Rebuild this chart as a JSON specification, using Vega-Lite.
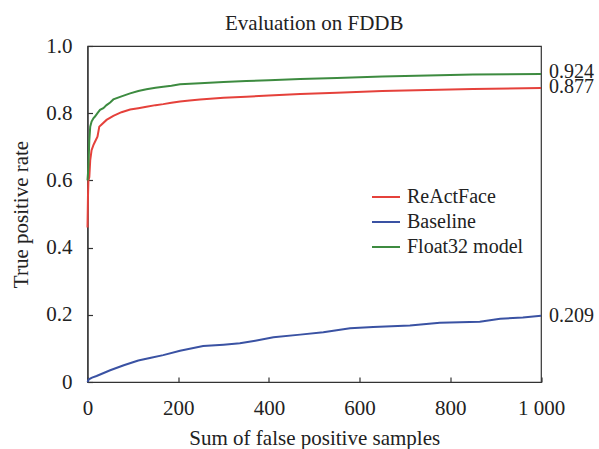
{
  "$schema": "https://vega.github.io/schema/vega-lite/v6.json",
  "autosize": {"type": "none"},
  "padding": {"left": 87.5, "top": 46, "right": 58, "bottom": 67},
  "width": 453.5,
  "height": 336,
  "title": {"text": "Evaluation on FDDB", "fontSize": 21, "fontWeight": "normal", "font": "Liberation Serif, Times New Roman, serif", "color": "#222", "baseline": "bottom", "offset": 2, "dy": 22},
  "config": {
    "font": "Liberation Serif, Times New Roman, serif",
    "view": {"stroke": "#333", "strokeWidth": 1.2},
    "axis": {"grid": false, "domainColor": "#333", "tickColor": "#333", "domainWidth": 1.2, "tickWidth": 1.2, "labelFontSize": 21, "titleFontSize": 21, "labelColor": "#222", "titleColor": "#222", "titleFontWeight": "normal", "labelFont": "Liberation Serif, Times New Roman, serif", "titleFont": "Liberation Serif, Times New Roman, serif"}
  },
  "layer": [
    {
      "data": {"values": [
        {"x":0,"y":0.46,"series":"ReActFace"},
        {"x":1,"y":0.55,"series":"ReActFace"},
        {"x":2,"y":0.6,"series":"ReActFace"},
        {"x":4,"y":0.61,"series":"ReActFace"},
        {"x":6,"y":0.66,"series":"ReActFace"},
        {"x":9,"y":0.69,"series":"ReActFace"},
        {"x":13,"y":0.705,"series":"ReActFace"},
        {"x":16.5,"y":0.715,"series":"ReActFace"},
        {"x":22,"y":0.73,"series":"ReActFace"},
        {"x":26,"y":0.76,"series":"ReActFace"},
        {"x":30,"y":0.765,"series":"ReActFace"},
        {"x":42,"y":0.78,"series":"ReActFace"},
        {"x":57,"y":0.792,"series":"ReActFace"},
        {"x":75,"y":0.803,"series":"ReActFace"},
        {"x":94,"y":0.811,"series":"ReActFace"},
        {"x":112,"y":0.815,"series":"ReActFace"},
        {"x":130,"y":0.819,"series":"ReActFace"},
        {"x":150,"y":0.824,"series":"ReActFace"},
        {"x":167,"y":0.827,"series":"ReActFace"},
        {"x":185,"y":0.831,"series":"ReActFace"},
        {"x":204,"y":0.835,"series":"ReActFace"},
        {"x":225,"y":0.838,"series":"ReActFace"},
        {"x":248,"y":0.841,"series":"ReActFace"},
        {"x":300,"y":0.846,"series":"ReActFace"},
        {"x":350,"y":0.849,"series":"ReActFace"},
        {"x":400,"y":0.853,"series":"ReActFace"},
        {"x":469,"y":0.857,"series":"ReActFace"},
        {"x":550,"y":0.861,"series":"ReActFace"},
        {"x":650,"y":0.866,"series":"ReActFace"},
        {"x":750,"y":0.869,"series":"ReActFace"},
        {"x":850,"y":0.872,"series":"ReActFace"},
        {"x":1000,"y":0.875,"series":"ReActFace"},
        {"x":0,"y":0,"series":"Baseline"},
        {"x":3,"y":0.008,"series":"Baseline"},
        {"x":10,"y":0.013,"series":"Baseline"},
        {"x":20,"y":0.018,"series":"Baseline"},
        {"x":50,"y":0.035,"series":"Baseline"},
        {"x":80,"y":0.05,"series":"Baseline"},
        {"x":112,"y":0.064,"series":"Baseline"},
        {"x":140,"y":0.072,"series":"Baseline"},
        {"x":167,"y":0.08,"series":"Baseline"},
        {"x":204,"y":0.093,"series":"Baseline"},
        {"x":255,"y":0.107,"series":"Baseline"},
        {"x":300,"y":0.111,"series":"Baseline"},
        {"x":336,"y":0.115,"series":"Baseline"},
        {"x":370,"y":0.123,"series":"Baseline"},
        {"x":410,"y":0.133,"series":"Baseline"},
        {"x":469,"y":0.141,"series":"Baseline"},
        {"x":520,"y":0.148,"series":"Baseline"},
        {"x":579,"y":0.16,"series":"Baseline"},
        {"x":630,"y":0.164,"series":"Baseline"},
        {"x":711,"y":0.168,"series":"Baseline"},
        {"x":777,"y":0.176,"series":"Baseline"},
        {"x":865,"y":0.179,"series":"Baseline"},
        {"x":910,"y":0.188,"series":"Baseline"},
        {"x":960,"y":0.192,"series":"Baseline"},
        {"x":1000,"y":0.197,"series":"Baseline"},
        {"x":0,"y":0.6,"series":"Float32 model"},
        {"x":2,"y":0.64,"series":"Float32 model"},
        {"x":4,"y":0.72,"series":"Float32 model"},
        {"x":6,"y":0.76,"series":"Float32 model"},
        {"x":9,"y":0.775,"series":"Float32 model"},
        {"x":13,"y":0.785,"series":"Float32 model"},
        {"x":16.5,"y":0.79,"series":"Float32 model"},
        {"x":22,"y":0.8,"series":"Float32 model"},
        {"x":27.6,"y":0.81,"series":"Float32 model"},
        {"x":35,"y":0.815,"series":"Float32 model"},
        {"x":42,"y":0.824,"series":"Float32 model"},
        {"x":50,"y":0.832,"series":"Float32 model"},
        {"x":57,"y":0.841,"series":"Float32 model"},
        {"x":75,"y":0.85,"series":"Float32 model"},
        {"x":94,"y":0.859,"series":"Float32 model"},
        {"x":112,"y":0.866,"series":"Float32 model"},
        {"x":130,"y":0.871,"series":"Float32 model"},
        {"x":150,"y":0.876,"series":"Float32 model"},
        {"x":167,"y":0.879,"series":"Float32 model"},
        {"x":185,"y":0.882,"series":"Float32 model"},
        {"x":204,"y":0.886,"series":"Float32 model"},
        {"x":248,"y":0.889,"series":"Float32 model"},
        {"x":300,"y":0.893,"series":"Float32 model"},
        {"x":350,"y":0.896,"series":"Float32 model"},
        {"x":400,"y":0.898,"series":"Float32 model"},
        {"x":469,"y":0.902,"series":"Float32 model"},
        {"x":550,"y":0.905,"series":"Float32 model"},
        {"x":650,"y":0.909,"series":"Float32 model"},
        {"x":750,"y":0.912,"series":"Float32 model"},
        {"x":850,"y":0.915,"series":"Float32 model"},
        {"x":1000,"y":0.917,"series":"Float32 model"}
      ]},
      "mark": {"type": "line", "strokeWidth": 2, "interpolate": "linear"},
      "encoding": {
        "x": {"field": "x", "type": "quantitative", "scale": {"domain": [0, 1000], "nice": false},
          "axis": {"title": "Sum of false positive samples", "values": [0,200,400,600,800,1000], "tickSize": -5, "labelPadding": 20, "labelExpr": "datum.value == 1000 ? '1 000' : datum.label", "labelFlush": false, "titleBaseline": "alphabetic", "titleY": 62}},
        "y": {"field": "y", "type": "quantitative", "scale": {"domain": [0, 1], "nice": false},
          "axis": {"title": "True positive rate", "values": [0,0.2,0.4,0.6,0.8,1], "tickSize": -5, "labelPadding": 20.5, "labelExpr": "datum.value == 0 ? '0' : format(datum.value, '.1f')", "labelFlush": false, "titleBaseline": "alphabetic", "titleX": -60.5}},
        "color": {"field": "series", "type": "nominal",
          "scale": {"domain": ["ReActFace", "Baseline", "Float32 model"], "range": ["#e5413b", "#3a52a3", "#3d8b40"]},
          "legend": {"title": null, "orient": "none", "legendX": 283.5, "legendY": 136, "symbolType": "stroke", "symbolSize": 784, "symbolStrokeWidth": 2, "labelFontSize": 20, "labelFont": "Liberation Serif, Times New Roman, serif", "labelColor": "#222", "labelOffset": 6, "rowPadding": -2, "labelLimit": 300}},
        "order": {"field": "x", "type": "quantitative"}
      }
    },
    {
      "data": {"values": [
        {"x": 1000, "y": 0.924, "label": "0.924"},
        {"x": 1000, "y": 0.877, "label": "0.877"},
        {"x": 1000, "y": 0.197, "label": "0.209"}
      ]},
      "mark": {"type": "text", "align": "left", "baseline": "middle", "dx": 8, "fontSize": 20, "font": "Liberation Serif, Times New Roman, serif", "color": "#222"},
      "encoding": {
        "x": {"field": "x", "type": "quantitative"},
        "y": {"field": "y", "type": "quantitative"},
        "text": {"field": "label"}
      }
    }
  ]
}
